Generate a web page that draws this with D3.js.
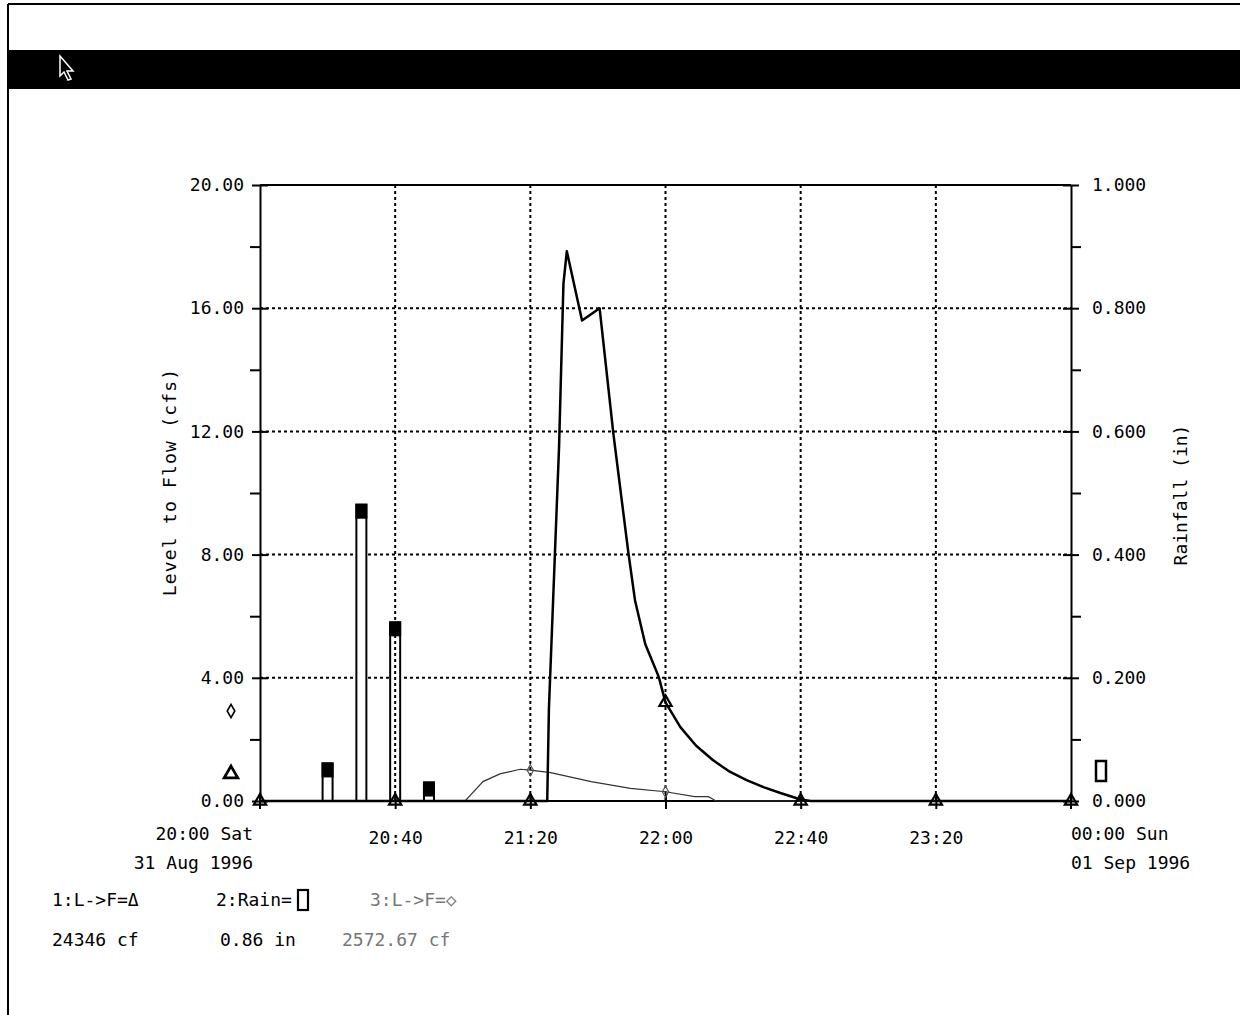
<!DOCTYPE html>
<html><head><meta charset="utf-8">
<script src="https://cdn.jsdelivr.net/npm/d3@7"></script>
<style>
html,body{margin:0;padding:0;background:#fff;}
svg text{font-family:"DejaVu Sans Mono","Liberation Mono",monospace;font-size:18px;fill:#000;}
</style></head>
<body>
<svg id="chart" width="1240" height="1015"></svg>
<script>
// ---- data ----
const flowTimes = ["20:00:00","21:25:00","21:25:30","21:28:30","21:29:48","21:30:48","21:35:18","21:40:30","21:44:36","21:49:00","21:51:00","21:54:00","21:58:00","22:00:00","22:04:24","22:09:00","22:14:00","22:19:00","22:24:00","22:29:00","22:34:00","22:40:00","22:43:00","23:59:59"];
const flowValues = [0,0,3.0,11.5,16.8,17.85,15.6,16.0,11.9,8.07,6.5,5.1,4.03,3.2,2.4,1.8,1.33,0.95,0.68,0.45,0.26,0.05,0,0];
const flow3Times = ["20:00:00","21:00:42","21:06:00","21:11:00","21:17:00","21:20:00","21:26:00","21:38:00","21:49:36","22:00:00","22:08:36","22:12:42","22:15:00","23:59:59"];
const flow3Values = [0,0,0.63,0.88,1.03,1.0,0.92,0.63,0.41,0.3,0.14,0.14,0,0];
const rainTimes = ["20:20:00","20:30:00","20:40:00","20:50:00"];
const rainValues = [0.061,0.481,0.29,0.03];
const markerTimes = ["20:00:00","20:40:00","21:20:00","22:00:00","22:40:00","23:20:00","23:59:59"];
const flowMarkerValues = [0,0,0,3.2,0,0,0];
const flow3MarkerValues = [null,null,1.0,0.3,null,null,null];
const leftTicks = [0,4,8,12,16,20];
const leftMinorTicks = [2,6,10,14,18];
const rightTicks = [0,0.2,0.4,0.6,0.8,1.0];
const rightMinorTicks = [0.1,0.3,0.5,0.7,0.9];
const xInnerTicks = ["20:40:00","21:20:00","22:00:00","22:40:00","23:20:00"];
const xStartLabel = ["20:00 Sat","31 Aug 1996"];
const xEndLabel = ["00:00 Sun","01 Sep 1996"];
const leftTitle = "Level to Flow (cfs)";
const rightTitle = "Rainfall (in)";
const legendNames = ["1:L->F=\u0394","2:Rain=","3:L->F=\u25C7"];
const legendTotals = ["24346 cf","0.86 in","2572.67 cf"];

// ---- setup ----
const parse = d3.timeParse("%Y-%m-%d %H:%M:%S");
const T = s => s === "23:59:59" ? parse("1996-09-01 00:00:00") : parse("1996-08-31 " + s);
const svg = d3.select("#chart");
const L = 260, R = 1071, TOP = 185, BOT = 801;
const x = d3.scaleTime().domain([T("20:00:00"), T("23:59:59")]).range([L, R]);
const yL = d3.scaleLinear().domain([0, 20]).range([BOT, TOP]);
const yR = d3.scaleLinear().domain([0, 1]).range([BOT, TOP]);

// window frame + title bar
svg.append("rect").attr("x",0).attr("y",0).attr("width",1240).attr("height",1015).attr("fill","#fff");
svg.append("line").attr("x1",8).attr("x2",1240).attr("y1",4).attr("y2",4).attr("stroke","#000").attr("stroke-width",2);
svg.append("line").attr("x1",8).attr("x2",8).attr("y1",4).attr("y2",1015).attr("stroke","#000").attr("stroke-width",2);
svg.append("rect").attr("x",8).attr("y",50).attr("width",1232).attr("height",39).attr("fill","#000");
svg.append("path").attr("d","M60,56 L60,76 L64,72 L68,80 L71,79 L67,71 L73,71 Z")
  .attr("fill","#000").attr("stroke","#fff").attr("stroke-width",1.5);

// gridlines horizontal
const grid = svg.append("g").attr("stroke","#000").attr("stroke-width",2).attr("stroke-dasharray","3,3");
grid.selectAll("line.h").data([4,8,12,16]).join("line").attr("class","h")
  .attr("x1",L).attr("x2",R).attr("y1",d=>yL(d)).attr("y2",d=>yL(d));

// rain bars
const bars = svg.append("g");
rainTimes.forEach((t,i)=>{
  const cx = x(T(t)), top = yR(rainValues[i]);
  bars.append("rect").attr("x",cx-5).attr("y",top).attr("width",10).attr("height",BOT-top)
    .attr("fill","#fff").attr("stroke","#000").attr("stroke-width",2);
  bars.append("rect").attr("x",cx-5).attr("y",top).attr("width",10).attr("height",Math.min(13,BOT-top-3))
    .attr("fill","#000").attr("stroke","#000").attr("stroke-width",2);
});

// vertical gridlines
const vgrid = svg.append("g").attr("stroke","#000").attr("stroke-width",2).attr("stroke-dasharray","3,3");
vgrid.selectAll("line").data(xInnerTicks).join("line")
  .attr("x1",d=>x(T(d))).attr("x2",d=>x(T(d))).attr("y1",TOP).attr("y2",BOT);

// axes lines
const ax = svg.append("g").attr("stroke","#000").attr("stroke-width",2);
ax.append("line").attr("x1",L).attr("x2",R).attr("y1",TOP).attr("y2",TOP);
ax.append("line").attr("x1",L).attr("x2",R).attr("y1",BOT).attr("y2",BOT);

// left axis
const gl = svg.append("g").attr("transform",`translate(${L},0)`)
  .call(d3.axisLeft(yL).tickValues(leftTicks).tickFormat(d3.format(".2f")).tickSizeInner(8).tickSizeOuter(0).tickPadding(8));
gl.selectAll(".tick line").attr("x2",-8).attr("x1",8);
const glm = svg.append("g").attr("transform",`translate(${L},0)`)
  .call(d3.axisLeft(yL).tickValues(leftMinorTicks).tickFormat("").tickSizeInner(10).tickSizeOuter(0));
glm.select(".domain").remove();
// right axis
const gr = svg.append("g").attr("transform",`translate(${R},0)`)
  .call(d3.axisRight(yR).tickValues(rightTicks).tickFormat(d3.format(".3f")).tickSizeInner(8).tickSizeOuter(0).tickPadding(13));
gr.selectAll(".tick line").attr("x1",-8).attr("x2",8);
const grm = svg.append("g").attr("transform",`translate(${R},0)`)
  .call(d3.axisRight(yR).tickValues(rightMinorTicks).tickFormat("").tickSizeInner(10).tickSizeOuter(0));
grm.select(".domain").remove();
[gl,gr,glm,grm].forEach(g=>{
  g.attr("font-size",null).attr("font-family",null);
  g.selectAll(".domain").attr("stroke-width",2);
  g.selectAll(".tick line").attr("stroke-width",2);
});

// bottom axis
const gb = svg.append("g").attr("transform",`translate(0,${BOT})`)
  .call(d3.axisBottom(x).tickValues(xInnerTicks.map(T)).tickFormat(d3.timeFormat("%H:%M")).tickSizeInner(8).tickSizeOuter(0).tickPadding(30));
gb.attr("font-size",null).attr("font-family",null);
gb.select(".domain").remove();
gb.selectAll(".tick line").attr("y1",-7).attr("y2",8).attr("stroke-width",2);
gb.selectAll(".tick text").attr("dy","0.3em");
// end ticks
[T("20:00:00"),T("23:59:59")].forEach(t=>{
  svg.append("line").attr("x1",x(t)).attr("x2",x(t)).attr("y1",BOT-7).attr("y2",BOT+8).attr("stroke","#000").attr("stroke-width",2);
});
const startT = svg.append("text").attr("text-anchor","end");
startT.append("tspan").attr("x",253).attr("y",840).text(xStartLabel[0]);
startT.append("tspan").attr("x",253).attr("y",869).text(xStartLabel[1]);
const endT = svg.append("text").attr("text-anchor","start");
endT.append("tspan").attr("x",1071).attr("y",840).text(xEndLabel[0]);
endT.append("tspan").attr("x",1071).attr("y",869).text(xEndLabel[1]);

// axis titles
svg.append("text").attr("transform","translate(176,482) rotate(-90)").attr("text-anchor","middle")
  .attr("letter-spacing","1.2").text(leftTitle);
svg.append("text").attr("transform","translate(1187,495) rotate(-90)").attr("text-anchor","middle").text(rightTitle);

// series 3 (thin)
svg.append("path").datum(flow3Times.map((t,i)=>[T(t),flow3Values[i]]))
  .attr("d",d3.line().x(d=>x(d[0])).y(d=>yL(d[1])))
  .attr("fill","none").attr("stroke","#333").attr("stroke-width",1.2);

// series 1 (thick)
svg.append("path").datum(flowTimes.map((t,i)=>[T(t),flowValues[i]]))
  .attr("d",d3.line().x(d=>x(d[0])).y(d=>yL(d[1])))
  .attr("fill","none").attr("stroke","#000").attr("stroke-width",2.5).attr("stroke-linejoin","round");

// markers
const tri = d3.symbol().type(d3.symbolTriangle).size(65);
const dia = d3.symbol().type(d3.symbolDiamond).size(35);
markerTimes.forEach((t,i)=>{
  if (flow3MarkerValues[i] !== null)
    svg.append("path").attr("d",dia()).attr("transform",`translate(${x(T(t))},${yL(flow3MarkerValues[i])})`)
      .attr("fill","none").attr("stroke","#555").attr("stroke-width",1.2);
  svg.append("path").attr("d",tri()).attr("transform",`translate(${x(T(t))},${yL(flowMarkerValues[i])})`)
    .attr("fill","none").attr("stroke","#000").attr("stroke-width",2.2);
});

// series indicators beside the axes
svg.append("path").attr("d",d3.symbol().type(d3.symbolDiamond).size(50)()).attr("transform","translate(231,711)")
  .attr("fill","none").attr("stroke","#000").attr("stroke-width",1.6);
svg.append("path").attr("d",d3.symbol().type(d3.symbolTriangle).size(80)()).attr("transform","translate(231,774)")
  .attr("fill","none").attr("stroke","#000").attr("stroke-width",2.8);
svg.append("rect").attr("x",1096).attr("y",761).attr("width",10).attr("height",20)
  .attr("fill","none").attr("stroke","#000").attr("stroke-width",2.5);

// legend
const lg = svg.append("g");
lg.append("text").attr("x",52).attr("y",906).text(legendNames[0]);
lg.append("text").attr("x",216).attr("y",906).text(legendNames[1]);
lg.append("rect").attr("x",298).attr("y",890).attr("width",10).attr("height",20).attr("fill","none").attr("stroke","#000").attr("stroke-width",2.2);
lg.append("text").attr("x",370).attr("y",906).style("fill","#777").text(legendNames[2]);
lg.append("text").attr("x",52).attr("y",946).text(legendTotals[0]);
lg.append("text").attr("x",220).attr("y",946).text(legendTotals[1]);
lg.append("text").attr("x",342).attr("y",946).style("fill","#777").text(legendTotals[2]);
</script>
</body></html>
